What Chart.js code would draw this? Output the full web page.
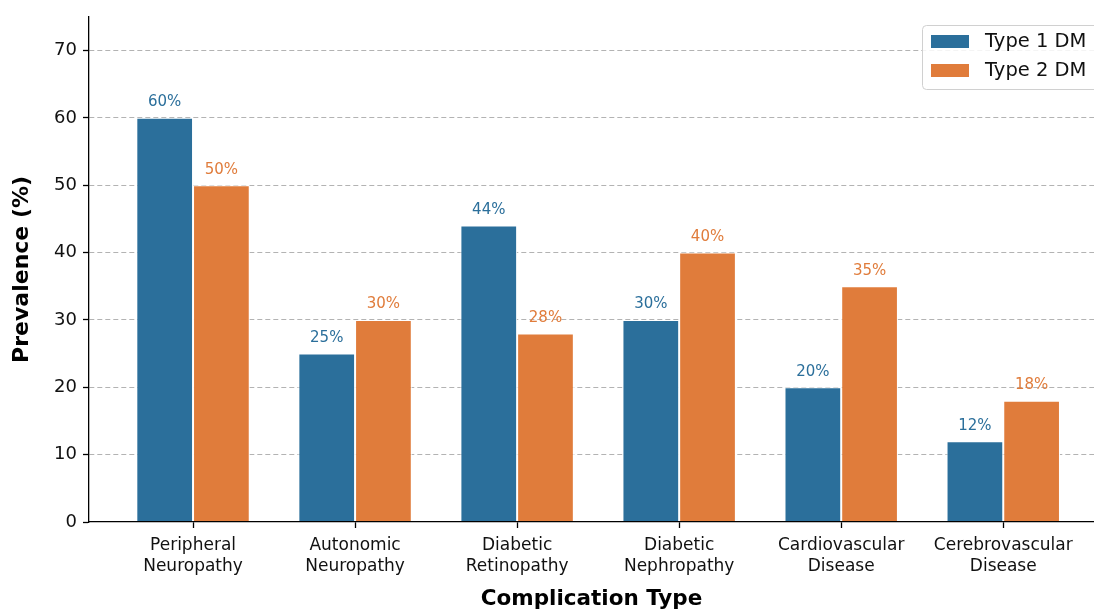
<!DOCTYPE html>
<html>
<head>
<meta charset="utf-8">
<script src="https://cdn.jsdelivr.net/npm/chart.js@4.4.0/dist/chart.umd.min.js"></script>
<style>
  html, body { margin: 0; padding: 0; background: #fff; overflow: hidden; }
  #wrap { position: relative; width: 1094px; height: 612px; }
</style>
</head>
<body>
<div id="wrap"><canvas id="complicationsChart" width="1094" height="612"></canvas></div>
<script>
const categories = ['Peripheral Neuropathy', 'Autonomic Neuropathy', 'Diabetic Retinopathy',
  'Diabetic Nephropathy', 'Cardiovascular Disease', 'Cerebrovascular Disease'];
const type1 = [60, 25, 44, 30, 20, 12];
const type2 = [50, 30, 28, 40, 35, 18];
const seriesNames = ['Type 1 DM', 'Type 2 DM'];
const yTicks = [0, 10, 20, 30, 40, 50, 60, 70];

const BLUE = '#2b6f9b';
const ORANGE = '#e07c3b';
const FONT = "'DejaVu Sans', sans-serif";

// percent labels above each bar
const barLabels = {
  id: 'barLabels',
  afterDatasetsDraw(chart) {
    const ctx = chart.ctx;
    ctx.save();
    ctx.font = '15px ' + FONT;
    ctx.textAlign = 'center';
    ctx.textBaseline = 'bottom';
    chart.data.datasets.forEach((ds, di) => {
      const meta = chart.getDatasetMeta(di);
      ctx.fillStyle = ds.backgroundColor;
      meta.data.forEach((bar, i) => {
        ctx.fillText(ds.data[i].y + '%', bar.x, bar.y - 8);
      });
    });
    ctx.restore();
  }
};

// legend box in the upper right corner of the plot
const cornerLegend = {
  id: 'cornerLegend',
  afterDraw(chart) {
    const ctx = chart.ctx;
    const x0 = 922, y0 = 25, w = 190, h = 64;
    ctx.save();
    ctx.fillStyle = 'rgba(255,255,255,0.85)';
    ctx.strokeStyle = '#d0d0d0';
    ctx.lineWidth = 1;
    ctx.beginPath();
    ctx.roundRect(x0 + 0.5, y0 + 0.5, w, h, 4);
    ctx.fill();
    ctx.stroke();
    ctx.font = '19.5px ' + FONT;
    ctx.textBaseline = 'middle';
    chart.data.datasets.forEach((ds, i) => {
      const cy = y0 + 17 + i * 29;
      ctx.fillStyle = ds.backgroundColor;
      ctx.fillRect(x0 + 9, cy - 7, 38, 13);
      ctx.fillStyle = '#111';
      ctx.fillText(ds.label, x0 + 63, cy);
    });
    ctx.restore();
  }
};

const ctx = document.getElementById('complicationsChart').getContext('2d');
new Chart(ctx, {
  type: 'bar',
  data: {
    datasets: [
      {
        label: seriesNames[0],
        data: type1.map((v, i) => ({ x: i, y: v })),
        backgroundColor: BLUE,
        borderColor: '#ffffff',
        borderWidth: 1
      },
      {
        label: seriesNames[1],
        data: type2.map((v, i) => ({ x: i, y: v })),
        backgroundColor: ORANGE,
        borderColor: '#ffffff',
        borderWidth: 1
      }
    ]
  },
  plugins: [barLabels, cornerLegend],
  options: {
    responsive: false,
    animation: false,
    devicePixelRatio: 1,
    barPercentage: 1,
    categoryPercentage: 0.7,
    layout: { padding: { top: 15, right: 0, left: 0, bottom: 0 } },
    plugins: {
      legend: { display: false },
      tooltip: { enabled: false }
    },
    scales: {
      x: {
        type: 'linear',
        offset: false,
        min: -0.642,
        max: 5.56,
        afterBuildTicks: s => { s.ticks = categories.map((_, i) => ({ value: i })); },
        afterFit: s => { s.height = 90; },
        ticks: {
          color: '#111',
          font: { family: FONT, size: 17, lineHeight: 1.25 },
          padding: 7,
          maxRotation: 0,
          autoSkip: false,
          callback: v => categories[v] ? categories[v].split(' ') : ''
        },
        grid: {
          offset: false,
          drawOnChartArea: false,
          drawTicks: true,
          tickLength: 6,
          tickColor: '#000',
          tickWidth: 1.3
        },
        border: { display: true, color: '#000', width: 1.3, z: 1 },
        title: {
          display: true,
          text: 'Complication Type',
          color: '#000',
          font: { family: FONT, size: 21.5, weight: 'bold' },
          padding: { top: -3, bottom: 0 }
        }
      },
      y: {
        min: 0,
        max: 75,
        afterBuildTicks: s => { s.ticks = yTicks.map(v => ({ value: v })); },
        afterFit: s => { s.width = 89; },
        ticks: {
          color: '#111',
          font: { family: FONT, size: 18 },
          padding: 6,
          autoSkip: false,
          includeBounds: false
        },
        grid: {
          color: c => (c.tick && c.tick.value === 0) ? 'rgba(0,0,0,0)' : '#b3b3b3',
          lineWidth: 1,
          drawTicks: true,
          tickLength: 6,
          tickColor: '#000',
          tickWidth: 1.3,
          tickBorderDash: []
        },
        border: { display: true, color: '#000', width: 1.3, dash: [5, 3] },
        title: {
          display: true,
          text: 'Prevalence (%)',
          color: '#000',
          font: { family: FONT, size: 22, weight: 'bold' },
          padding: { top: 9, bottom: 0 }
        }
      }
    }
  }
});
</script>
</body>
</html>
